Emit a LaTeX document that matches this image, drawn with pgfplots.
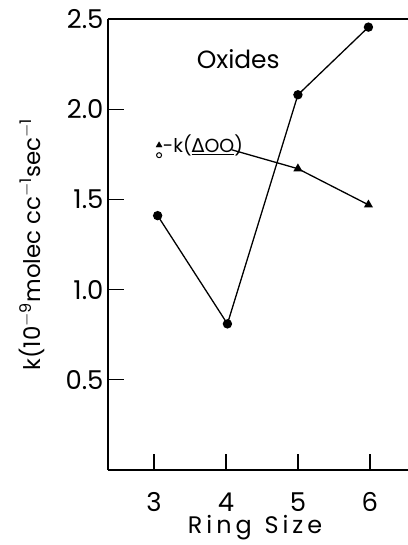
\documentclass[border=0pt]{standalone}
\usepackage{pgfplots}
\pgfplotsset{compat=1.18}
\usepackage{fontspec}
\setmainfont{Poppins}
\newfontfamily\dejavu{DejaVu Sans}
\begin{document}
\begin{tikzpicture}
\begin{axis}[
  scale only axis, width=300bp, height=451bp,
  xmin=2.36, xmax=6.53, ymin=0, ymax=2.5,
  axis x line=box, axis y line=left,
  axis line style={-, line width=1.3pt},
  xtick={3,4,5,6}, ytick={0.5,1,1.5,2,2.5},
  xtick pos=bottom, ytick pos=left,
  tick align=inside, major tick length=16bp,
  tick style={line width=1.3pt, black},
  /pgf/number format/assume math mode=true,
  yticklabel style={/pgf/number format/fixed, /pgf/number format/fixed zerofill, /pgf/number format/precision=1, font=\fontsize{26}{30}\selectfont, xshift=-1bp},
  xticklabel style={font=\fontsize{26}{30}\selectfont, anchor=center, yshift=-32bp},
  xlabel={R\,i\,n\,g\ \ S\,i\,z\,e},
  xlabel style={font=\fontsize{24}{28}\selectfont, at={(axis description cs:0.49,0)}, anchor=north, yshift=-44bp, inner sep=1bp},
  ylabel={k(10\textsuperscript{$-$9}molec cc\textsuperscript{$-$1}sec\textsuperscript{$-$1}},
  ylabel style={font=\fontsize{23}{28}\selectfont, yshift=14bp},
  clip=false,
]
\addplot[black, line width=1.3pt, mark=*, mark size=4bp] coordinates {
  (3.05,1.41) (4.02,0.81) (5.0,2.08) (5.98,2.455)
};
\addplot[black, line width=1.3pt, mark=triangle*, mark size=4bp, mark indices={2,3}] coordinates {
  (4.08,1.775) (5.0,1.67) (5.98,1.47)
};
\addplot[black, only marks, mark=triangle*, mark size=3.5bp] coordinates {(3.07,1.80)};
\addplot[black, only marks, mark=o, mark size=2.5bp, line width=1pt] coordinates {(3.07,1.745)};
\node[font=\fontsize{25}{30}\selectfont] at (axis cs:4.17,2.28) {Oxides};
\node[font=\fontsize{19}{22}\selectfont, anchor=west, inner sep=0pt] at (axis cs:3.12,1.80) {-k(\underline{{\dejavu Δ}OO})};
\end{axis}
\pgfresetboundingbox
\path[use as bounding box] (current axis.south west) ++(-108bp,-75bp) rectangle ++(408bp,545bp);
\end{tikzpicture}
\end{document}
